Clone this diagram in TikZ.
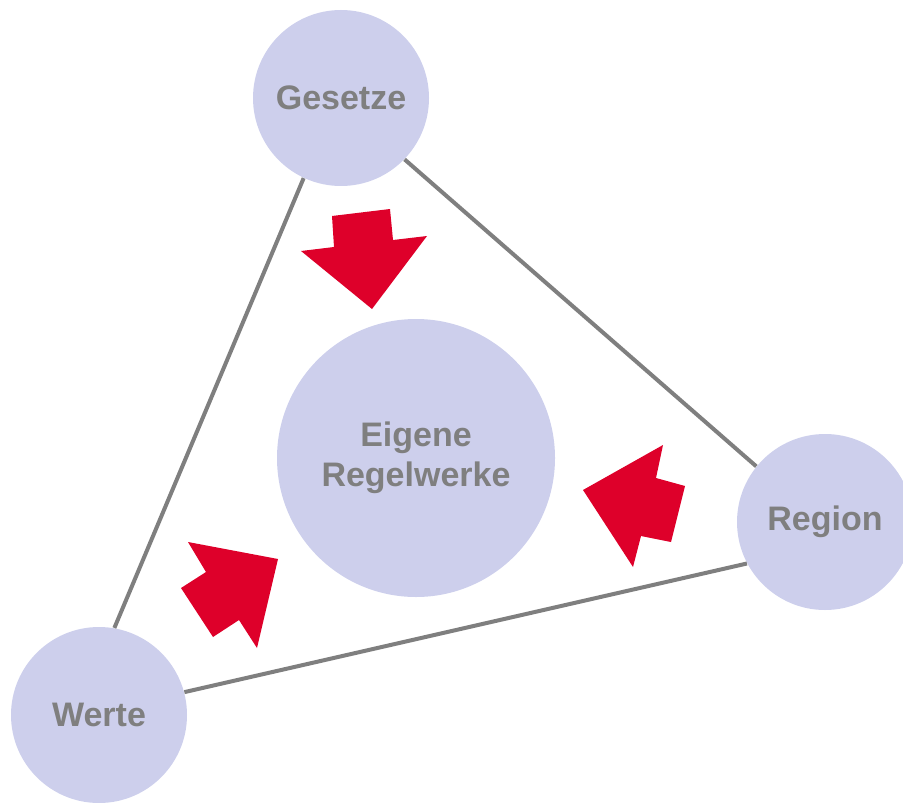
\documentclass[tikz,border=0pt]{standalone}
\usepackage{fontspec}
\setmainfont{Liberation Sans}
\usepackage{xcolor}
\usepackage{tikz}
\usetikzlibrary{shapes,arrows}
\definecolor{bubblefill}{RGB}{205,207,236}
\definecolor{labelgray}{RGB}{127,127,127}
\definecolor{arrowred}{RGB}{222,0,42}
\tikzstyle{bubble} = [circle, fill=bubblefill, inner sep=0pt, text=labelgray, font=\fontsize{17}{20}\selectfont\bfseries, align=center]
\tikzstyle{link} = [draw=labelgray, line width=2pt]
\tikzstyle{push} = [fill=arrowred]

\begin{document}
\begin{tikzpicture}[x=0.5pt, y=-0.5pt]
    \useasboundingbox (0,0) rectangle (903,802);

    \node[bubble, minimum size=88pt] (ges) at (341,98) {Gesetze};
    \node[bubble, minimum size=88pt] (reg) at (825,522) {Region};
    \node[bubble, minimum size=88pt] (wer) at (99,715) {Werte};
    \node[bubble, minimum size=139pt] (eig) at (416,458) {Eigene\\Regelwerke};

    \draw[link] (ges.-44) -- (reg.141);
    \draw[link] (ges.-115) -- (wer.80);
    \draw[link] (wer.15) -- (reg.-152);

    % arrows into the middle
    \fill[push] (332,216) -- (390,209) -- (393,240) -- (427,236) -- (372,309) -- (301,251) -- (334,247) -- cycle;
    \fill[push] (583,490) -- (663,445) -- (656,478) -- (685,486) -- (671,542) -- (641,536) -- (633,567) -- cycle;
    \fill[push] (278,559) -- (257,648) -- (239,620) -- (213,637) -- (181,588) -- (206,572) -- (188,542) -- cycle;
\end{tikzpicture}
\end{document}
